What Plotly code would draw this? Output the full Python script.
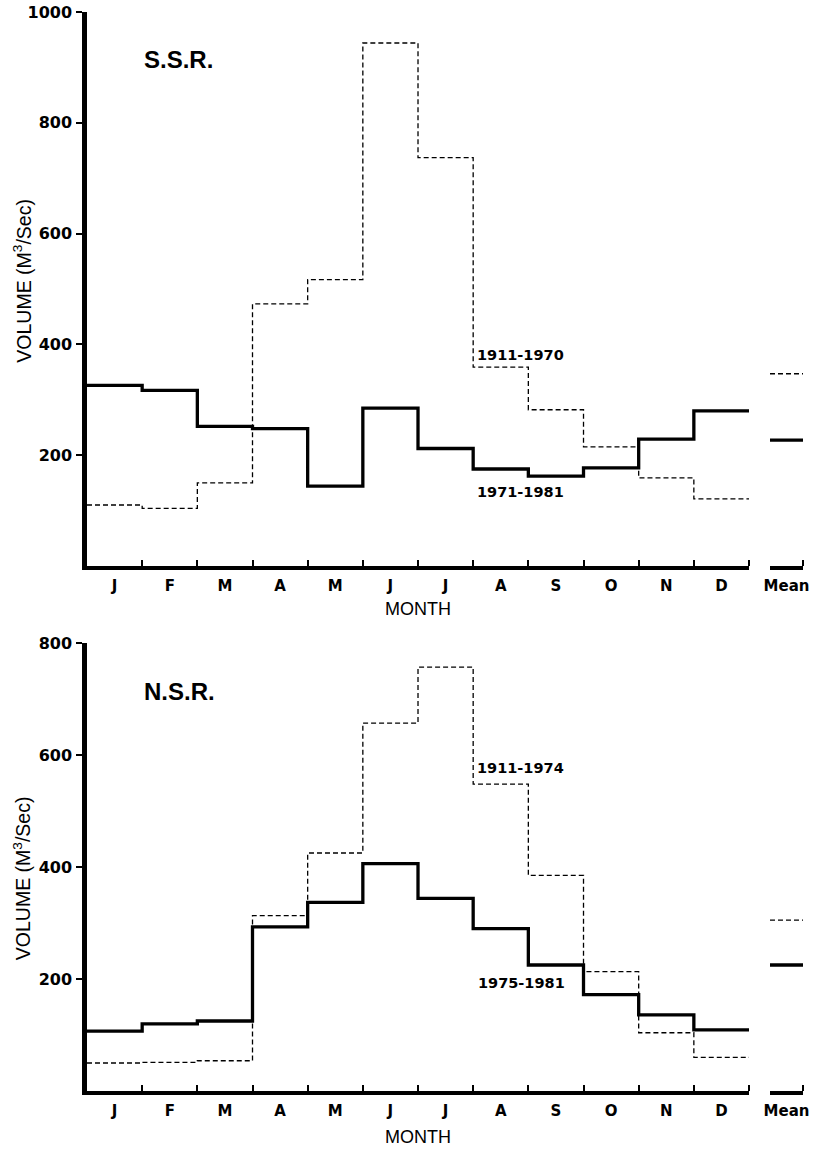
import plotly.graph_objects as go

# ---------------- data ----------------
months = ["J", "F", "M", "A", "M", "J", "J", "A", "S", "O", "N", "D"]
month_edges = list(range(13))                 # month boundaries 0..12
month_centers = [m + 0.5 for m in range(12)]

# S.S.R. (upper panel)
ssr_1971_1981 = [326, 317, 252, 248, 144, 285, 212, 175, 162, 177, 229, 280]
ssr_1911_1970 = [110, 104, 150, 473, 517, 944, 737, 359, 282, 215, 159, 121]
ssr_mean_1971_1981 = 227
ssr_mean_1911_1970 = 347

# N.S.R. (lower panel)
nsr_1975_1981 = [107, 120, 125, 293, 337, 406, 344, 290, 225, 172, 136, 109]
nsr_1911_1974 = [50, 51, 54, 313, 425, 657, 757, 548, 385, 213, 104, 60]
nsr_mean_1975_1981 = 225
nsr_mean_1911_1974 = 305

ssr_yticks = [200, 400, 600, 800, 1000]
nsr_yticks = [200, 400, 600, 800]

# ---------------- styling ----------------
BOLD = "DejaVu Sans"
REG = "Liberation Sans"
SOLID = dict(color="black", width=3.3)
DASH = dict(color="black", width=1.3, dash="5px,3px")

fig = go.Figure()


def steps(vals):
    return vals + [vals[-1]]


def add_panel(xa, xm, ya, solid, dashed, msolid, mdashed):
    fig.add_trace(go.Scatter(x=month_edges, y=steps(dashed), mode="lines",
                             line=DASH, line_shape="hv", xaxis=xa, yaxis=ya,
                             hoverinfo="skip"))
    fig.add_trace(go.Scatter(x=month_edges, y=steps(solid), mode="lines",
                             line=SOLID, line_shape="hv", xaxis=xa, yaxis=ya,
                             hoverinfo="skip"))
    fig.add_trace(go.Scatter(x=[0, 1], y=[mdashed, mdashed], mode="lines",
                             line=DASH, xaxis=xm, yaxis=ya, hoverinfo="skip"))
    fig.add_trace(go.Scatter(x=[0, 1], y=[msolid, msolid], mode="lines",
                             line=SOLID, xaxis=xm, yaxis=ya, hoverinfo="skip"))


add_panel("x", "x2", "y", ssr_1971_1981, ssr_1911_1970,
          ssr_mean_1971_1981, ssr_mean_1911_1970)
add_panel("x3", "x4", "y2", nsr_1975_1981, nsr_1911_1974,
          nsr_mean_1975_1981, nsr_mean_1911_1974)

MONTH_DOM = [0, 0.9246]
MEAN_DOM = [0.9539, 1.0]
TOP_DOM = [0.4866, 1.0]
BOT_DOM = [0.0, 0.4152]

tickfont = dict(family=BOLD, size=15, color="black", weight="bold")


def month_axis(anchor):
    return dict(domain=MONTH_DOM, anchor=anchor, range=[0, 12],
                showline=True, linewidth=4, linecolor="black",
                tickmode="array", tickvals=month_centers, ticktext=months,
                ticks="", tickfont=tickfont, showgrid=False, zeroline=False,
                fixedrange=True, automargin=False, ticklabelstandoff=3,
                minor=dict(tickmode="array", tickvals=month_edges[1:],
                           ticks="inside", ticklen=6, tickwidth=2,
                           tickcolor="black", showgrid=False))


def mean_axis(anchor):
    return dict(domain=MEAN_DOM, anchor=anchor, range=[0, 1],
                showline=True, linewidth=4, linecolor="black",
                tickmode="array", tickvals=[0.5], ticktext=["Mean"],
                ticks="", tickfont=tickfont, showgrid=False, zeroline=False,
                fixedrange=True, automargin=False, ticklabelstandoff=3,
                minor=dict(tickmode="array", tickvals=[1], ticks="inside",
                           ticklen=6, tickwidth=2, tickcolor="black",
                           showgrid=False))


def y_axis(dom, anchor, rng, tv):
    return dict(domain=dom, anchor=anchor, range=rng, tickmode="array",
                tickvals=tv, ticks="outside", ticklen=6, tickwidth=2,
                tickcolor="black", showline=True, linewidth=4.5,
                linecolor="black", tickfont=dict(family=BOLD, size=16,
                                                 color="black", weight="bold"),
                showgrid=False, zeroline=False, fixedrange=True,
                automargin=False, ticklabelstandoff=1)


fig.update_layout(
    width=818, height=1149,
    margin=dict(l=87, r=15, t=12, b=58, autoexpand=False),
    paper_bgcolor="white", plot_bgcolor="white",
    showlegend=False,
    xaxis=month_axis("y"),
    xaxis2=mean_axis("y"),
    xaxis3=month_axis("y2"),
    xaxis4=mean_axis("y2"),
    yaxis=y_axis(TOP_DOM, "x", [0, 1000], ssr_yticks),
    yaxis2=y_axis(BOT_DOM, "x3", [0, 800], nsr_yticks),
)

ann = []
# panel labels
ann.append(dict(text="S.S.R.", x=1.0, y=914, xref="x", yref="y",
                xanchor="left", yanchor="middle", showarrow=False,
                font=dict(family=REG, size=24, color="black", weight="bold")))
ann.append(dict(text="N.S.R.", x=1.0, y=713, xref="x3", yref="y2",
                xanchor="left", yanchor="middle", showarrow=False,
                font=dict(family=REG, size=24, color="black", weight="bold")))
# series labels
lab_font = dict(family=BOLD, size=14.5, color="black", weight="bold")
ann.append(dict(text="1911-1970", x=7.03, y=381, xref="x", yref="y",
                xanchor="left", yanchor="middle", showarrow=False, font=lab_font))
ann.append(dict(text="1971-1981", x=7.03, y=133, xref="x", yref="y",
                xanchor="left", yanchor="middle", showarrow=False, font=lab_font))
ann.append(dict(text="1911-1974", x=7.04, y=576, xref="x3", yref="y2",
                xanchor="left", yanchor="middle", showarrow=False, font=lab_font))
ann.append(dict(text="1975-1981", x=7.05, y=192, xref="x3", yref="y2",
                xanchor="left", yanchor="middle", showarrow=False, font=lab_font))
# axis titles
title_font = dict(family=REG, size=19.5, color="black")
ann.append(dict(text="VOLUME (M<sup>3</sup>/Sec)", x=0, xref="paper", xshift=-65,
                y=515, yref="y", textangle=-90, showarrow=False,
                xanchor="center", yanchor="middle", font=title_font))
ann.append(dict(text="VOLUME (M<sup>3</sup>/Sec)", x=0, xref="paper", xshift=-65,
                y=380, yref="y2", textangle=-90, showarrow=False,
                xanchor="center", yanchor="middle", font=title_font))
month_font = dict(family=REG, size=18, color="black")
ann.append(dict(text="MONTH", x=0.5, xref="x domain", y=0, yref="y domain",
                yshift=-43, showarrow=False, xanchor="center", yanchor="middle",
                font=month_font))
ann.append(dict(text="MONTH", x=0.5, xref="x3 domain", y=0, yref="y2 domain",
                yshift=-46, showarrow=False, xanchor="center", yanchor="middle",
                font=month_font))
fig.update_layout(annotations=ann)

fig.write_html(
    "out.html",
    config={"displayModeBar": False},
    post_script="document.body.style.margin='0';"
                "document.body.style.overflow='hidden';",
)
